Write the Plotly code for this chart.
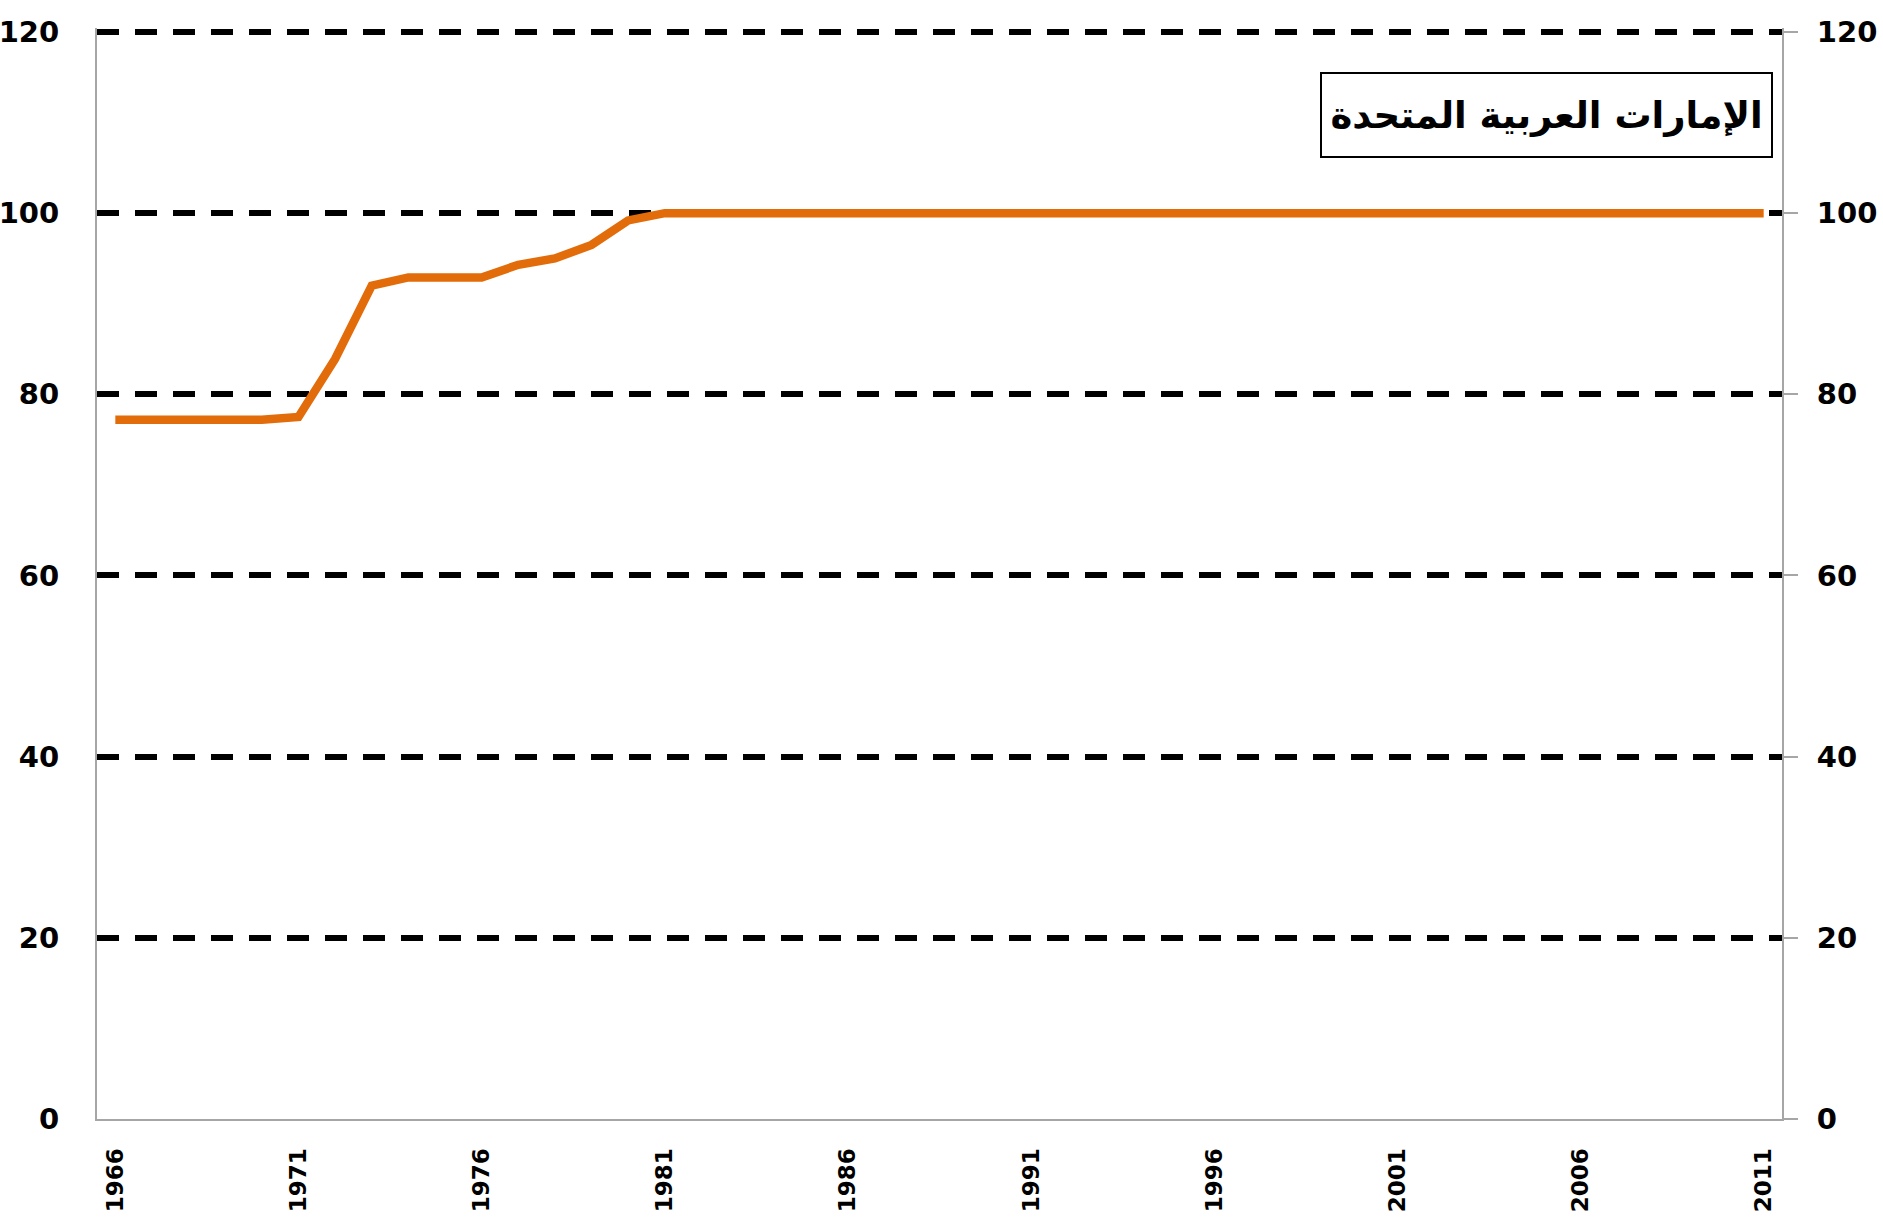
import plotly.graph_objects as go

years = list(range(1966, 2012))
values = [77.2, 77.2, 77.2, 77.2, 77.2, 77.5, 83.9, 92.0, 92.9, 92.9, 92.9, 94.3, 95.0, 96.5, 99.2] + [100.0] * 31
xtick_vals = [1966, 1971, 1976, 1981, 1986, 1991, 1996, 2001, 2006, 2011]
ytick_vals = [0, 20, 40, 60, 80, 100, 120]
title_text = "الإمارات العربية المتحدة"

LINE_COLOR = "#E36C0A"
AXIS_GRAY = "#A6A6A6"
FONT = "DejaVu Sans"

fig = go.Figure()
fig.add_trace(go.Scatter(x=years, y=values, mode="lines",
                         line=dict(color=LINE_COLOR, width=8.5),
                         showlegend=False, hoverinfo="x+y"))
fig.add_trace(go.Scatter(x=years, y=values, mode="lines", yaxis="y2",
                         line=dict(color="rgba(0,0,0,0)", width=0),
                         showlegend=False, hoverinfo="skip"))

YMAX = 120.44

fig.update_layout(
    width=1883, height=1218,
    margin=dict(l=97, r=101, t=28, b=99),
    plot_bgcolor="white", paper_bgcolor="white",
    xaxis=dict(range=[1965.5, 2011.5], tickvals=xtick_vals,
               ticktext=[str(v) for v in xtick_vals], tickangle=-90,
               tickfont=dict(family=FONT, size=23, color="black", weight="bold"),
               showgrid=False, zeroline=False, showline=True, automargin=False,
               linecolor=AXIS_GRAY, linewidth=2, ticks="", ticklabelstandoff=18),
    yaxis=dict(range=[0, YMAX], tickvals=ytick_vals, automargin=False,
               tickfont=dict(family=FONT, size=29, color="black", weight="bold"),
               showgrid=True, gridcolor="black", gridwidth=6, griddash="22px,16px",
               zeroline=False, showline=True, linecolor=AXIS_GRAY, linewidth=2,
               ticks="", ticklabelstandoff=30),
    yaxis2=dict(range=[0, YMAX], tickvals=ytick_vals, overlaying="y", side="right",
                automargin=False,
                tickfont=dict(family=FONT, size=29, color="black", weight="bold"),
                showgrid=False, zeroline=False, showline=True, linecolor=AXIS_GRAY,
                linewidth=2, ticks="outside", ticklen=14, tickcolor=AXIS_GRAY,
                tickwidth=2, ticklabelstandoff=13),
    annotations=[dict(text="<b>" + title_text + "</b>", xref="paper", yref="paper",
                      x=0.860, y=0.9205, xanchor="center", yanchor="middle",
                      showarrow=False, width=445, height=78,
                      font=dict(family=FONT, size=37, color="black"),
                      bordercolor="black", borderwidth=2, borderpad=2,
                      bgcolor="white")],
)

fig.write_html("out.html", config={"displayModeBar": False},
               post_script="document.body.style.margin='0';")
